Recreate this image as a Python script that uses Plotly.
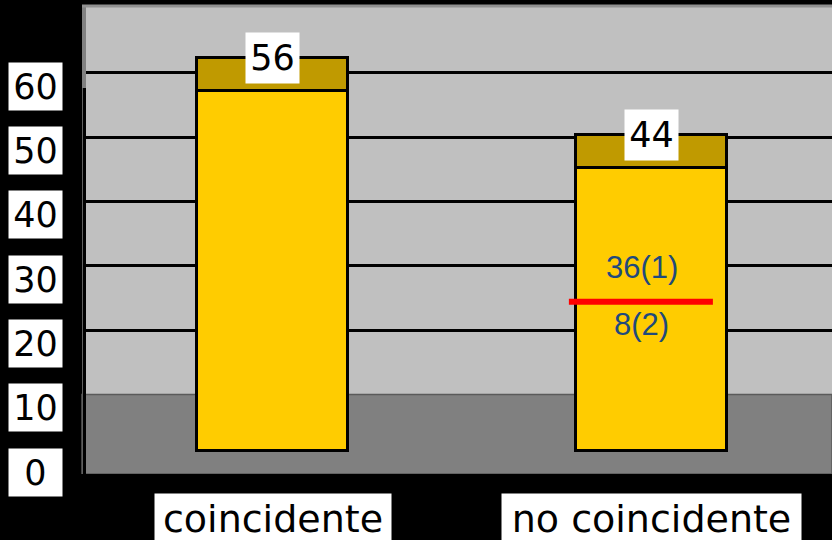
import plotly.graph_objects as go

# ---- data ----
categories = ["coincidente", "no coincidente"]
values = [56, 44]
top_depth = [5.1, 5.1]          # visible depth of the 3D bar top face
value_labels = ["56", "44"]
y_ticks = [0, 10, 20, 30, 40, 50, 60]
grid_ticks = [20, 30, 40, 50, 60]
split_value = 23.2               # red divider inside "no coincidente"
split_upper_label = "36(1)"
split_lower_label = "8(2)"
split_upper_y = 28.5
split_lower_y = 19.6

# ---- geometry helpers (layout) ----
W, H = 832, 540
ML, MR, MT, MB = 82, 0, 6, 66
plot_w = W - ML - MR
plot_h = H - MT - MB
px_per_unit = 6.43
y_min = -(474 - 451) / px_per_unit
y_max = y_min + plot_h / px_per_unit
grid_offset = 1.2
cat_px = 379.0
x_min = -190.5 / cat_px
x_max = x_min + plot_w / cat_px

YELLOW = "#FFCC00"
GOLD = "#C09A00"
WALL = "#C0C0C0"
FLOOR = "#808080"

fig = go.Figure()
fig.add_trace(go.Bar(
    x=categories, y=values, marker=dict(color=YELLOW, line=dict(color="black", width=3.5)),
    width=0.40, showlegend=False, hoverinfo="skip"))
fig.add_trace(go.Bar(
    x=categories, y=top_depth, marker=dict(color=GOLD, line=dict(color="black", width=3.5)),
    width=0.40, showlegend=False, hoverinfo="skip"))

# invisible trace to activate y2 (gridlines on back wall)
fig.add_trace(go.Scatter(x=[categories[0]], y=[None], yaxis="y2", showlegend=False,
                         hoverinfo="skip"))

shapes = []
# floor
shapes.append(dict(type="rect", xref="paper", yref="y2", x0=0, x1=1,
                   y0=y_min + grid_offset, y1=10, fillcolor=FLOOR,
                   line=dict(color="#5A5A5A", width=1.5), layer="between"))
# left wall strip
strip_top = (474 - 88) / plot_h
shapes.append(dict(type="rect", xref="paper", yref="paper", x0=0, x1=4 / plot_w,
                   y0=strip_top, y1=1, fillcolor="#808080", line=dict(width=0), layer="above"))
shapes.append(dict(type="rect", xref="paper", yref="paper", x0=0, x1=4 / plot_w,
                   y0=0, y1=strip_top, fillcolor="black", line=dict(width=0), layer="above"))
shapes.append(dict(type="line", xref="paper", yref="paper", x0=0.5 / plot_w, x1=0.5 / plot_w,
                   y0=0, y1=strip_top, line=dict(color="#606060", width=1), layer="above"))
# top border
shapes.append(dict(type="line", xref="paper", yref="paper", x0=0, x1=1, y0=1, y1=1,
                   line=dict(color="#909090", width=3), layer="above"))
# red divider
shapes.append(dict(type="line", xref="x", yref="y", x0=1 - 0.218, x1=1 + 0.162,
                   y0=split_value, y1=split_value, line=dict(color="#FF0000", width=6),
                   layer="above"))

annotations = []
# y tick labels with white boxes
for v in y_ticks:
    annotations.append(dict(
        xref="paper", yref="y", x=0, y=v + y_min + (474 - 472) / px_per_unit,
        xanchor="right", yanchor="middle", xshift=-19,
        text=str(v), showarrow=False, bgcolor="white", borderpad=0,
        width=53, height=47, align="center",
        font=dict(family="DejaVu Sans", size=35, color="black")))
# category labels
cat_widths = [236, 299]
for c, w in zip(categories, cat_widths):
    annotations.append(dict(
        xref="x", yref="paper", x=c, y=0, xanchor="center", yanchor="top", yshift=-19,
        text=c, showarrow=False, bgcolor="white", borderpad=0, width=w, height=50,
        font=dict(family="DejaVu Sans", size=38, color="black")))
# value labels
for c, v, d, t in zip(categories, values, top_depth, value_labels):
    annotations.append(dict(
        xref="x", yref="y", x=c, y=v + d, xanchor="center", yanchor="middle",
        text=t, showarrow=False, bgcolor="white", borderpad=0, width=53, height=50,
        font=dict(family="DejaVu Sans", size=35, color="black")))
# split labels
for t, yy in [(split_upper_label, split_upper_y), (split_lower_label, split_lower_y)]:
    annotations.append(dict(
        xref="x", yref="y", x=1 - 10 / cat_px, y=yy, xanchor="center", yanchor="middle",
        text=t, showarrow=False,
        font=dict(family="Liberation Sans", size=31, color="#1F4A7C")))

fig.update_layout(
    width=W, height=H, margin=dict(l=ML, r=MR, t=MT, b=MB, pad=0),
    paper_bgcolor="black", plot_bgcolor=WALL, barmode="stack", bargap=0,
    xaxis=dict(range=[x_min, x_max], showticklabels=False, showgrid=False,
               zeroline=False, showline=False, ticks=""),
    yaxis=dict(range=[y_min, y_max], showticklabels=False, showgrid=False,
               zeroline=False, showline=False, ticks=""),
    yaxis2=dict(range=[y_min + grid_offset, y_max + grid_offset], overlaying="y",
                side="left", tickvals=grid_ticks, showticklabels=False,
                showgrid=True, gridcolor="black", gridwidth=2.5, zeroline=False,
                showline=False, ticks=""),
    shapes=shapes, annotations=annotations,
)

fig.write_html("out.html", config={"displayModeBar": False},
               post_script="document.body.style.margin='0';document.body.style.background='black';")
